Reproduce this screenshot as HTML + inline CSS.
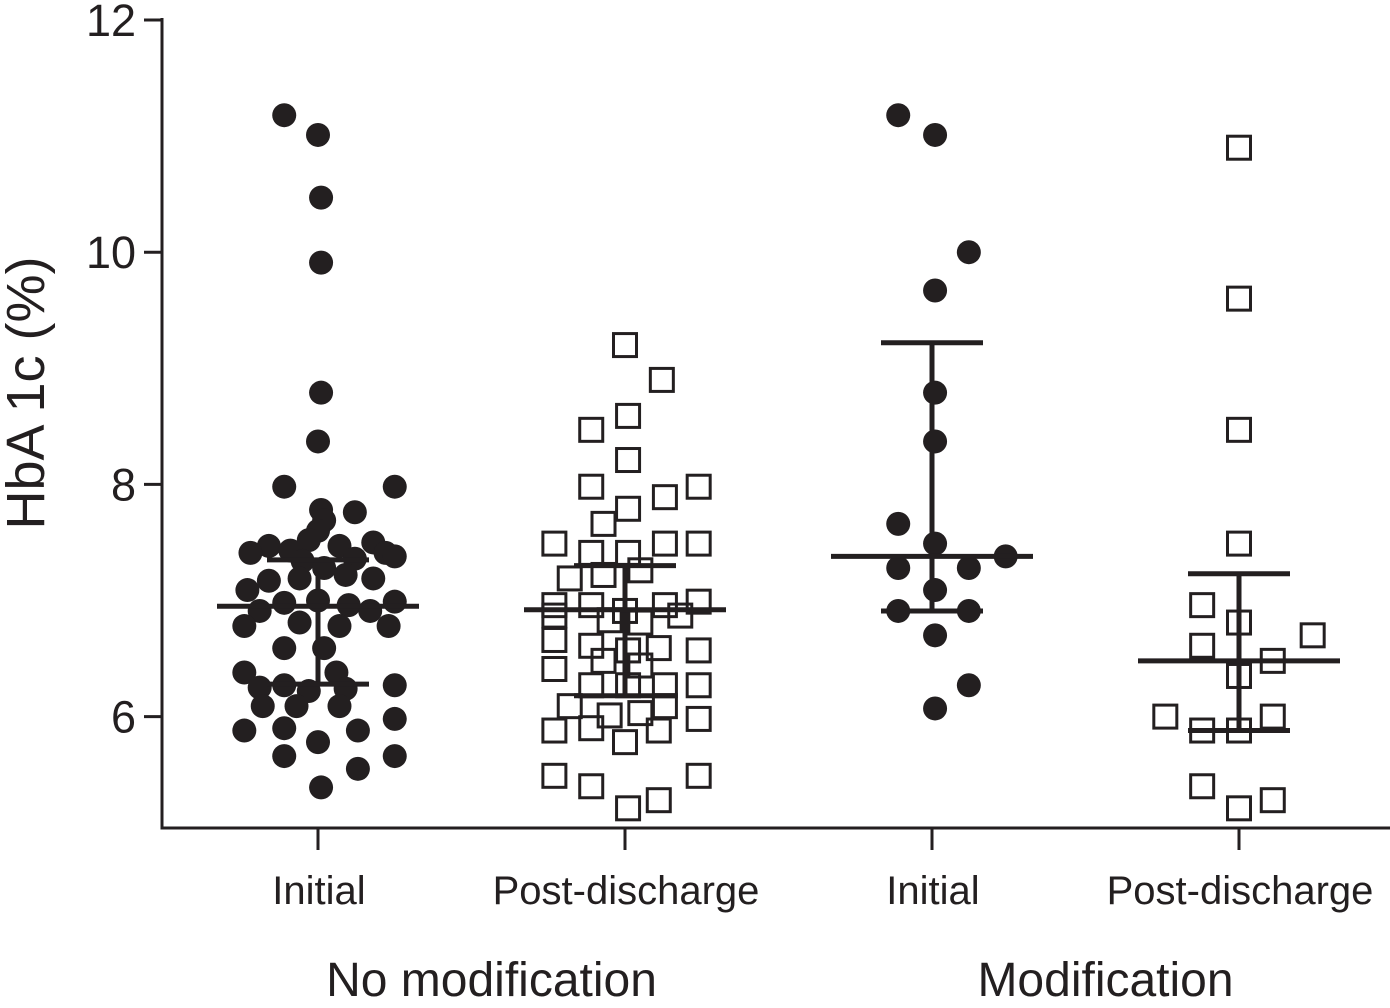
<!DOCTYPE html>
<html><head><meta charset="utf-8"><style>
html,body{margin:0;padding:0;background:#fff;}
svg{display:block;font-family:"Liberation Sans",Arial,sans-serif;}
</style></head><body>
<svg id="chart" width="1390" height="1008" viewBox="0 0 1390 1008"></svg>
<script>
const categories = ["Initial","Post-discharge","Initial","Post-discharge"];
const groupLabels = ["No modification","Modification"];
const yTicks = [6,8,10,12];
const g1Values = [11.18,11.01,10.47,9.91,8.79,8.37,7.98,7.98,7.78,7.76,7.69,7.60,7.52,7.47,7.41,7.43,7.47,7.50,7.41,7.38,7.34,7.36,7.09,7.17,7.19,7.28,7.22,7.19,6.91,6.98,7.00,6.96,6.91,6.99,6.78,6.81,6.78,6.78,6.59,6.59,6.38,6.38,6.27,6.25,6.22,6.24,6.27,6.09,6.09,6.09,5.88,5.90,5.88,5.98,5.66,5.78,5.55,5.66,5.39];
const g1Jitter = [-0.11,0,0.01,0.01,0.01,0,-0.11,0.25,0.01,0.12,0.02,0,-0.03,-0.16,-0.22,-0.09,0.07,0.18,0.22,0.25,-0.05,0.12,-0.23,-0.16,-0.06,0.02,0.09,0.18,-0.19,-0.11,0,0.1,0.17,0.25,-0.24,-0.06,0.07,0.23,-0.11,0.02,-0.24,0.06,-0.11,-0.19,-0.03,0.09,0.25,-0.18,-0.07,0.07,-0.24,-0.11,0.13,0.25,-0.11,0,0.13,0.25,0.01];
const g2Values = [9.20,8.90,8.47,8.59,8.21,7.98,7.79,7.89,7.98,7.66,7.49,7.41,7.41,7.49,7.49,7.19,7.22,7.26,6.96,6.96,6.91,6.96,6.99,6.87,6.83,6.81,6.87,6.66,6.61,6.57,6.59,6.57,6.41,6.48,6.44,6.27,6.27,6.27,6.27,6.09,6.01,6.03,6.09,5.98,5.88,5.90,5.78,5.88,5.49,5.40,5.28,5.49,5.21];
const g2Jitter = [0,0.12,-0.11,0.01,0.01,-0.11,0.01,0.13,0.24,-0.07,-0.23,-0.11,0.01,0.13,0.24,-0.18,-0.07,0.05,-0.23,-0.11,0,0.13,0.24,-0.23,-0.05,0.05,0.18,-0.23,-0.11,0.01,0.11,0.24,-0.23,-0.07,0.05,-0.11,0.01,0.13,0.24,-0.18,-0.05,0.05,0.13,0.24,-0.23,-0.11,0,0.11,-0.23,-0.11,0.11,0.24,0.01];
const g3Values = [11.18,11.01,10.0,9.67,8.79,8.37,7.66,7.49,7.38,7.28,7.28,7.09,6.91,6.91,6.70,6.27,6.07];
const g3Jitter = [-0.11,0.01,0.12,0.01,0.01,0.01,-0.11,0.01,0.24,-0.11,0.12,0.01,-0.11,0.12,0.01,0.12,0.01];
const g4Values = [10.9,9.6,8.47,7.49,6.96,6.70,6.81,6.61,6.48,6.35,6.0,6.0,5.88,5.88,5.40,5.28,5.21];
const g4Jitter = [0,0,0,0,-0.12,0.24,0,-0.12,0.11,0,-0.24,0.11,-0.12,0,-0.12,0.11,0];
const medians = [6.95,6.92,7.38,6.48];
const upperQ = [7.35,7.30,9.22,7.23];
const lowerQ = [6.28,6.18,6.91,5.88];

const svg = document.getElementById('chart');
const NS = 'http://www.w3.org/2000/svg';
const x0 = 162, xStep = 307, xFirst = 318;
function xScale(i){ return xFirst + i*xStep; }
function yScale(v){ return 20 + (12 - v) * 116.1; }
function mk(tag, attrs, parent){
  const e = document.createElementNS(NS, tag);
  for (const k in attrs) e.setAttribute(k, attrs[k]);
  (parent||svg).appendChild(e);
  return e;
}
const yAxis = mk('line',{x1:x0,y1:18,x2:x0,y2:829,stroke:'#231f20','stroke-width':3});


const xAxis = mk('line',{x1:x0-1.5,y1:828,x2:1390,y2:828,stroke:'#231f20','stroke-width':3});


yTicks.forEach(t=>{
  const y = yScale(t);
  const tk = mk('line',{x1:x0-18,y1:y,x2:x0,y2:y,stroke:'#231f20','stroke-width':3});
  
  
  const lb = mk('text',{x:136,y:y+16,'text-anchor':'end','font-size':45,fill:'#231f20'});
  lb.textContent = t;
  
  
});
const yt = mk('text',{x:44,y:393,'text-anchor':'middle','font-size':54,fill:'#231f20',transform:'rotate(-90 44 393)'});
yt.textContent = 'HbA 1c (%)';


categories.forEach((c,i)=>{
  const x = xScale(i);
  const tk = mk('line',{x1:x,y1:828,x2:x,y2:850,stroke:'#231f20','stroke-width':3});
  
  
  const lb = mk('text',{x:x+1,y:904,'text-anchor':'middle','font-size':40,fill:'#231f20'});
  lb.textContent = c;
  
  
});
groupLabels.forEach((g,i)=>{
  const lb = mk('text',{x:(xScale(2*i)+xScale(2*i+1))/2+20,y:996,'text-anchor':'middle','font-size':48,fill:'#231f20'});
  lb.textContent = g;
  
  
});
const groups = [[g1Values,g1Jitter,'circle'],[g2Values,g2Jitter,'square'],[g3Values,g3Jitter,'circle'],[g4Values,g4Jitter,'square']];
function drawPoints(i){
  const [vals,jit,shape] = groups[i];
  vals.forEach((v,k)=>{
    const cx = xScale(i) + jit[k]*xStep, cy = yScale(v);
    let e;
    if (shape==='circle') e = mk('circle',{cx:cx,cy:cy,r:12,fill:'#231f20'});
    else e = mk('rect',{x:cx-11.5,y:cy-11.5,width:23,height:23,fill:'none',stroke:'#231f20','stroke-width':3});
    
    
  });
}
function drawStats(i){
  const x = xScale(i), g = mk('g',{stroke:'#231f20','stroke-width':5});
  
  
  mk('line',{x1:x,y1:yScale(upperQ[i]),x2:x,y2:yScale(lowerQ[i])},g);
  mk('line',{x1:x-51,y1:yScale(upperQ[i]),x2:x+51,y2:yScale(upperQ[i])},g);
  mk('line',{x1:x-51,y1:yScale(lowerQ[i]),x2:x+51,y2:yScale(lowerQ[i])},g);
  mk('line',{x1:x-101,y1:yScale(medians[i]),x2:x+101,y2:yScale(medians[i])},g);
}
for (let i=0;i<4;i++){ drawPoints(i); drawStats(i); }
</script>
</body></html>
